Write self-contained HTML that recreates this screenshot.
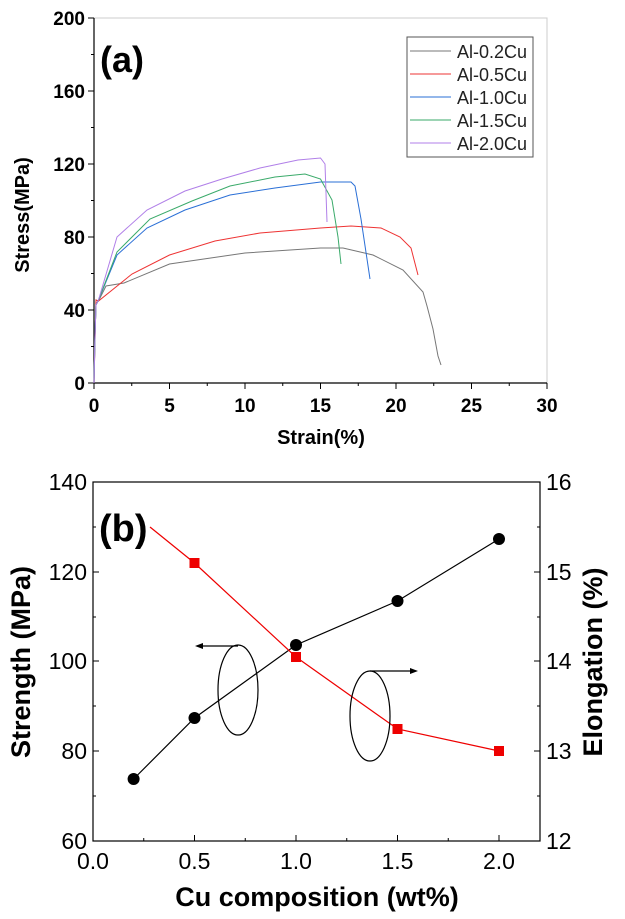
<!DOCTYPE html>
<html><head><style>body{margin:0;background:#fff}svg{display:block}</style></head><body>
<svg width="625" height="919" xmlns="http://www.w3.org/2000/svg" font-family="Liberation Sans, sans-serif">
<!-- Top chart -->
<rect x="94" y="18" width="453" height="365" fill="none" stroke="#ccc" stroke-width="1"/>
<line x1="94" y1="18" x2="94" y2="383" stroke="#000" stroke-width="1.2"/>
<line x1="94" y1="383" x2="547" y2="383" stroke="#000" stroke-width="1.2"/>
<g stroke="#000" stroke-width="1">
<line x1="94" y1="383" x2="94" y2="389"/><line x1="169.5" y1="383" x2="169.5" y2="389"/><line x1="245" y1="383" x2="245" y2="389"/><line x1="320.5" y1="383" x2="320.5" y2="389"/><line x1="396" y1="383" x2="396" y2="389"/><line x1="471.5" y1="383" x2="471.5" y2="389"/><line x1="547" y1="383" x2="547" y2="389"/>
<line x1="131.75" y1="383" x2="131.75" y2="386"/><line x1="207.25" y1="383" x2="207.25" y2="386"/><line x1="282.75" y1="383" x2="282.75" y2="386"/><line x1="358.25" y1="383" x2="358.25" y2="386"/><line x1="433.75" y1="383" x2="433.75" y2="386"/><line x1="509.25" y1="383" x2="509.25" y2="386"/>
<line x1="88" y1="18" x2="94" y2="18"/><line x1="88" y1="91" x2="94" y2="91"/><line x1="88" y1="164" x2="94" y2="164"/><line x1="88" y1="237" x2="94" y2="237"/><line x1="88" y1="310" x2="94" y2="310"/><line x1="88" y1="383" x2="94" y2="383"/>
<line x1="91" y1="54.5" x2="94" y2="54.5"/><line x1="91" y1="127.5" x2="94" y2="127.5"/><line x1="91" y1="200.5" x2="94" y2="200.5"/><line x1="91" y1="273.5" x2="94" y2="273.5"/><line x1="91" y1="346.5" x2="94" y2="346.5"/>
</g>
<g font-size="19" font-weight="bold" text-anchor="end">
<text x="85" y="25">200</text><text x="85" y="98">160</text><text x="85" y="171">120</text><text x="85" y="244">80</text><text x="85" y="317">40</text><text x="85" y="390">0</text>
</g>
<g font-size="19" font-weight="bold" text-anchor="middle">
<text x="94" y="412">0</text><text x="169.5" y="412">5</text><text x="245" y="412">10</text><text x="320.5" y="412">15</text><text x="396" y="412">20</text><text x="471.5" y="412">25</text><text x="547" y="412">30</text>
</g>
<text x="321" y="444" font-size="20" font-weight="bold" text-anchor="middle">Strain(%)</text>
<text transform="translate(29,215) rotate(-90)" font-size="20" font-weight="bold" text-anchor="middle">Stress(MPa)</text>
<text x="100" y="72" font-size="36" font-weight="bold">(a)</text>
<g fill="none" stroke-width="1">
<polyline stroke="#777" points="94,383 95,340 96,300 98.5,301 106,286 124,283 169.5,264 245,253 320.5,248 343,248 373,255 403,270 423,292 427,306 433,329 438,356 441,365"/>
<polyline stroke="#e33" points="94,383 95,340 96,300 98.5,301 132,274 169.5,255 215,241 260,233 320.5,228 351,226 381,228 400,237 411,248 418,275"/>
<polyline stroke="#2a6fd6" points="94,383 95,335 96,305 98.5,300 117,255 147,228 185,210 230,195 275,188 320.5,182 351,182 355,186 361,219 370,279"/>
<polyline stroke="#3aaa6a" points="94,383 95,335 96,305 98.5,300 117,252 150,219 192,201 230,186 275,177 305,174 320.5,179 332,200 338,237 341,264"/>
<polyline stroke="#b07fe8" points="94,383 95,335 96,305 98.5,300 117,237 147,210 185,191 222,179 260,168 298,160 320.5,158 325,164 327,222"/>
</g>
<rect x="407" y="37" width="126" height="120" fill="#fff" stroke="#555" stroke-width="1"/>
<g stroke-width="1">
<line x1="410" y1="51" x2="451" y2="51" stroke="#777"/>
<line x1="410" y1="74" x2="451" y2="74" stroke="#e33"/>
<line x1="410" y1="97" x2="451" y2="97" stroke="#2a6fd6"/>
<line x1="410" y1="120" x2="451" y2="120" stroke="#3aaa6a"/>
<line x1="410" y1="143" x2="451" y2="143" stroke="#b07fe8"/>
</g>
<g font-size="18" fill="#222">
<text x="457" y="58">Al-0.2Cu</text><text x="457" y="81">Al-0.5Cu</text><text x="457" y="104">Al-1.0Cu</text><text x="457" y="127">Al-1.5Cu</text><text x="457" y="150">Al-2.0Cu</text>
</g>
<!-- Bottom chart -->
<rect x="93" y="482" width="447" height="359" fill="none" stroke="#000" stroke-width="1.2"/>
<g stroke="#000" stroke-width="1">
<line x1="93" y1="482" x2="99" y2="482"/><line x1="93" y1="572" x2="99" y2="572"/><line x1="93" y1="661" x2="99" y2="661"/><line x1="93" y1="751" x2="99" y2="751"/>
<line x1="93" y1="527" x2="96" y2="527"/><line x1="93" y1="617" x2="96" y2="617"/><line x1="93" y1="706" x2="96" y2="706"/><line x1="93" y1="796" x2="96" y2="796"/>
<line x1="540" y1="572" x2="534" y2="572"/><line x1="540" y1="661" x2="534" y2="661"/><line x1="540" y1="751" x2="534" y2="751"/>
<line x1="540" y1="527" x2="537" y2="527"/><line x1="540" y1="617" x2="537" y2="617"/><line x1="540" y1="706" x2="537" y2="706"/><line x1="540" y1="796" x2="537" y2="796"/>
<line x1="194.5" y1="841" x2="194.5" y2="835"/><line x1="296" y1="841" x2="296" y2="835"/><line x1="397.5" y1="841" x2="397.5" y2="835"/><line x1="499" y1="841" x2="499" y2="835"/>
<line x1="143.75" y1="841" x2="143.75" y2="838"/><line x1="245.25" y1="841" x2="245.25" y2="838"/><line x1="346.75" y1="841" x2="346.75" y2="838"/><line x1="448.25" y1="841" x2="448.25" y2="838"/>
</g>
<g font-size="23" text-anchor="end">
<text x="87" y="490">140</text><text x="87" y="580">120</text><text x="87" y="669">100</text><text x="87" y="759">80</text><text x="87" y="849">60</text>
</g>
<g font-size="23" text-anchor="start">
<text x="546" y="490">16</text><text x="546" y="580">15</text><text x="546" y="669">14</text><text x="546" y="759">13</text><text x="546" y="849">12</text>
</g>
<g font-size="23" text-anchor="middle">
<text x="93" y="869">0.0</text><text x="194.5" y="869">0.5</text><text x="296" y="869">1.0</text><text x="397.5" y="869">1.5</text><text x="499" y="869">2.0</text>
</g>
<text x="317" y="906" font-size="27" font-weight="bold" text-anchor="middle">Cu composition (wt%)</text>
<text transform="translate(30,662) rotate(-90)" font-size="27" font-weight="bold" text-anchor="middle">Strength (MPa)</text>
<text transform="translate(602,662) rotate(-90)" font-size="27" font-weight="bold" text-anchor="middle">Elongation (%)</text>
<text x="99" y="541" font-size="38" font-weight="bold">(b)</text>
<polyline fill="none" stroke="#000" stroke-width="1.2" points="133.6,779 194.5,718 296,645 397.5,601 499,539"/>
<g fill="#000"><circle cx="133.6" cy="779" r="6"/><circle cx="194.5" cy="718" r="6"/><circle cx="296" cy="645" r="6"/><circle cx="397.5" cy="601" r="6"/><circle cx="499" cy="539" r="6"/></g>
<polyline fill="none" stroke="#e00" stroke-width="1.2" points="150,527 194.5,563 296,657 397.5,729 499,751"/>
<g fill="#e00"><rect x="189.5" y="558" width="10" height="10"/><rect x="291" y="652" width="10" height="10"/><rect x="392.5" y="724" width="10" height="10"/><rect x="494" y="746" width="10" height="10"/></g>
<g fill="none" stroke="#000" stroke-width="1.2">
<ellipse cx="238" cy="690" rx="20" ry="45"/>
<ellipse cx="370" cy="716" rx="20" ry="45"/>
<line x1="238" y1="646" x2="200" y2="646"/>
<line x1="370" y1="671" x2="413" y2="671"/>
</g>
<polygon points="195,646 203,643 203,649" fill="#000"/>
<polygon points="418,671 410,668 410,674" fill="#000"/>
</svg>
</body></html>
